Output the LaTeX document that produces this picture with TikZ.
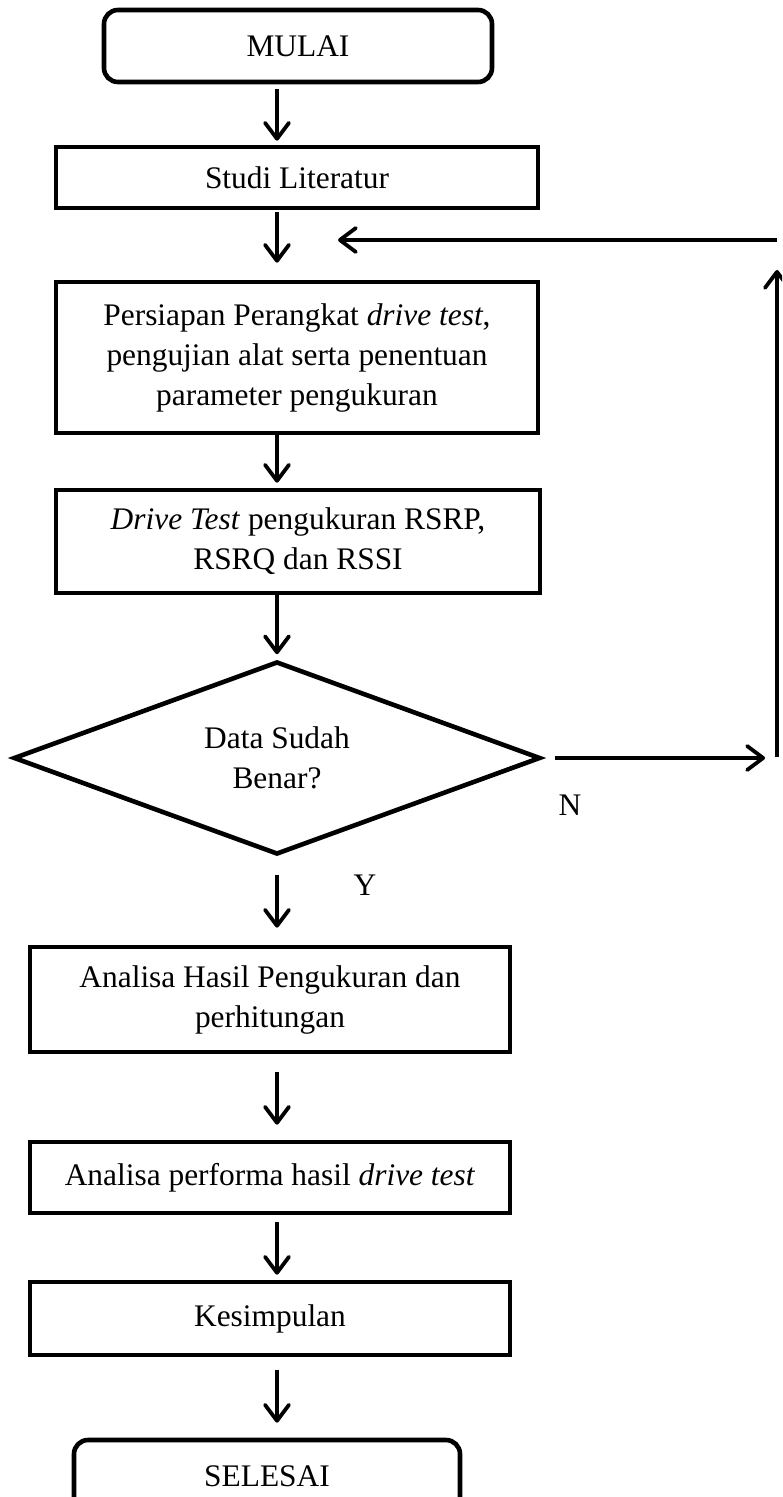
\documentclass[tikz,border=0pt]{standalone}
\usepackage{fontspec}
\setmainfont{Liberation Serif}
\usetikzlibrary{shapes.geometric,arrows.meta}
\tikzset{
    proses/.style={draw, line width=2.3pt, align=center, inner sep=0pt},
    terminal/.style={proses, rounded corners=7pt},
    keputusan/.style={draw, diamond, aspect=2.73, line width=2.3pt, align=center, inner sep=0pt, minimum width=263.5pt, minimum height=96.5pt},
    alur/.style={line width=1.9pt, -{Straight Barb[length=8pt,width=12pt,round]}}
}
\begin{document}
\begin{tikzpicture}[x=0.5pt, y=-0.5pt, font=\fontsize{15.7}{20}\selectfont]
        \clip (0,0) rectangle (782,1497);
        \node[terminal, minimum width=194pt, minimum height=36pt] (mulai) at (298,46) {MULAI};
        \node[proses, minimum width=241pt, minimum height=30.5pt] (studi) at (297,177.5) {Studi Literatur};
        \node[proses, minimum width=241pt, minimum height=75.5pt] (persiapan) at (297,357.5) {Persiapan Perangkat \textit{drive test},\\pengujian alat serta penentuan\\parameter pengukuran};
        \node[proses, minimum width=242pt, minimum height=51.5pt] (drivetest) at (298,541.5) {\textit{Drive Test} pengukuran RSRP,\\RSRQ dan RSSI};
        \node[keputusan] (cek) at (277,758) {Data Sudah\\Benar?};
        \node[proses, minimum width=240pt, minimum height=52.5pt] (hasil) at (270,999.5) {Analisa Hasil Pengukuran dan\\perhitungan};
        \node[proses, minimum width=240pt, minimum height=35.5pt] (performa) at (270,1177.5) {Analisa performa hasil \textit{drive test}};
        \node[proses, minimum width=240pt, minimum height=36.5pt] (kesimpulan) at (270,1318.5) {Kesimpulan};
        \node[terminal, minimum width=193pt, minimum height=36pt] (selesai) at (267,1476) {SELESAI};
        \node (ya) at (365,885) {Y};
        \node (tidak) at (570,805) {N};
        \draw[alur, shorten <=2.5pt, shorten >=2pt] (mulai.south -| cek.north) -- (studi.north -| cek.north);
        \draw[alur, shorten <=1pt, shorten >=8.5pt] (studi.south -| cek.north) -- (persiapan.north -| cek.north);
        \draw[alur, shorten >=2.5pt] (persiapan.south -| cek.north) -- (drivetest.north -| cek.north);
        \draw[alur, shorten >=2.5pt] (drivetest.south -| cek.north) -- (cek.north);
        \draw[alur, shorten <=9pt, shorten >=8.5pt] (cek.south) -- (hasil.north -| cek.north);
        \draw[alur, shorten <=9pt, shorten >=7.5pt] (hasil.south -| cek.north) -- (performa.north -| cek.north);
        \draw[alur, shorten <=3.5pt, shorten >=2.5pt] (performa.south -| cek.north) -- (kesimpulan.north -| cek.north);
        \draw[alur, shorten <=6.5pt, shorten >=7.5pt] (kesimpulan.south -| cek.north) -- (selesai.north -| cek.north);
        \coordinate (kananbawah) at (777,757);
        \coordinate (kananatas) at (777,240);
        \coordinate (kembali) at (338,240);
        \draw[alur, shorten <=6pt, shorten >=6pt] (cek.east) -- (cek.east -| kananbawah);
        \draw[alur, shorten >=15pt] (kananbawah) -- (kananatas);
        \draw[alur] (kananatas) -- (kembali);
\end{tikzpicture}
\end{document}
